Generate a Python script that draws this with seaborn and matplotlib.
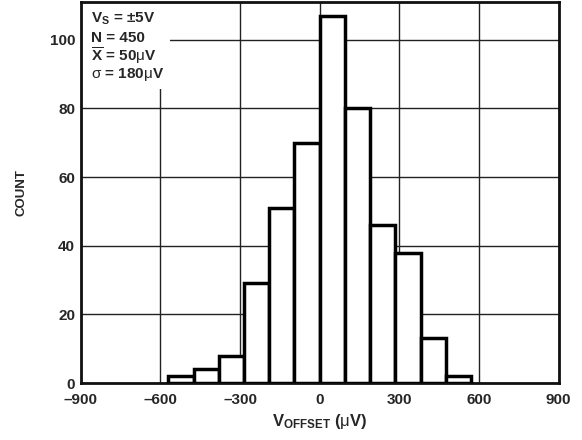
# ==========================================
# OFFSET VOLTAGE DISTRIBUTION HISTOGRAM
# ==========================================

import pandas as pd
import matplotlib
matplotlib.use("Agg")
import matplotlib.pyplot as plt
import matplotlib.patches as patches
import seaborn as sns

# ==========================================
# DATA
# ==========================================

bin_edges = [-570, -475, -380, -285, -190, -95, 0, 95, 190, 285, 380, 475, 570]
counts = [2, 4, 8, 29, 51, 70, 107, 80, 46, 38, 13, 2]

x_ticks = [-900, -600, -300, 0, 300, 600, 900]
x_tick_labels = ["\u2013900", "\u2013600", "\u2013300", "0", "300", "600", "900"]
y_ticks = [0, 20, 40, 60, 80, 100]

centers = [(bin_edges[i] + bin_edges[i + 1]) / 2 for i in range(len(counts))]
df = pd.DataFrame({"offset": centers, "count": counts})

# ==========================================
# PLOT
# ==========================================

sns.set_style("white")
plt.rcParams["font.family"] = ["Liberation Sans", "DejaVu Sans"]
plt.rcParams["mathtext.fontset"] = "custom"
plt.rcParams["mathtext.rm"] = "Liberation Sans"
plt.rcParams["mathtext.bf"] = "Liberation Sans:bold"
plt.rcParams["mathtext.it"] = "Liberation Sans:italic"

fig = plt.figure(figsize=(5.82, 4.4), dpi=100)
ax = fig.add_axes([0.1387, 0.1295, 0.8213, 0.866])

sns.histplot(
    data=df,
    x="offset",
    weights="count",
    bins=bin_edges,
    color="white",
    edgecolor="black",
    linewidth=2.5,
    alpha=1,
    ax=ax,
    zorder=3
)

ax.set_xlim(-900, 900)
ax.set_ylim(0, 111)
ax.set_xticks(x_ticks)
ax.set_xticklabels(x_tick_labels)
ax.set_yticks(y_ticks)

ax.set_axisbelow(True)
ax.grid(True, color="#222222", linewidth=1.0)

for side in ax.spines.values():
    side.set_linewidth(2)
    side.set_color("#111111")

ax.tick_params(axis="y", length=0, pad=4, labelsize=11)
ax.tick_params(axis="x", length=0, pad=7, labelsize=11)
for lbl in ax.get_xticklabels() + ax.get_yticklabels():
    lbl.set_fontweight("bold")

ax.set_xlabel(
    r"V$_{\mathbf{OFFSET}}$ ($\mathrm{\mu}$V)",
    fontsize=12,
    fontweight="bold",
    labelpad=4
)
ax.set_ylabel("COUNT", fontsize=9.5, fontweight="bold", labelpad=16)

# white box behind the stats text
box = patches.Rectangle(
    (0, 0.772), 0.187, 0.228,
    transform=ax.transAxes,
    facecolor="white",
    edgecolor="none",
    zorder=2
)
ax.add_patch(box)

stats = [
    "V$_{\\mathbf{S}}$ = \u00b15V",
    "N = 450",
    r"$\mathbf{\overline{X}}$ = 50$\mathrm{\mu}$V",
    r"$\mathrm{\sigma}$ = 180$\mathrm{\mu}$V",
]
y_pos = [0.955, 0.906, 0.858, 0.809]
for s, yp in zip(stats, y_pos):
    ax.text(
        0.022, yp, s,
        transform=ax.transAxes,
        fontsize=11,
        fontweight="bold",
        va="center",
        ha="left",
        zorder=4
    )

plt.savefig("out.png", dpi=100)
